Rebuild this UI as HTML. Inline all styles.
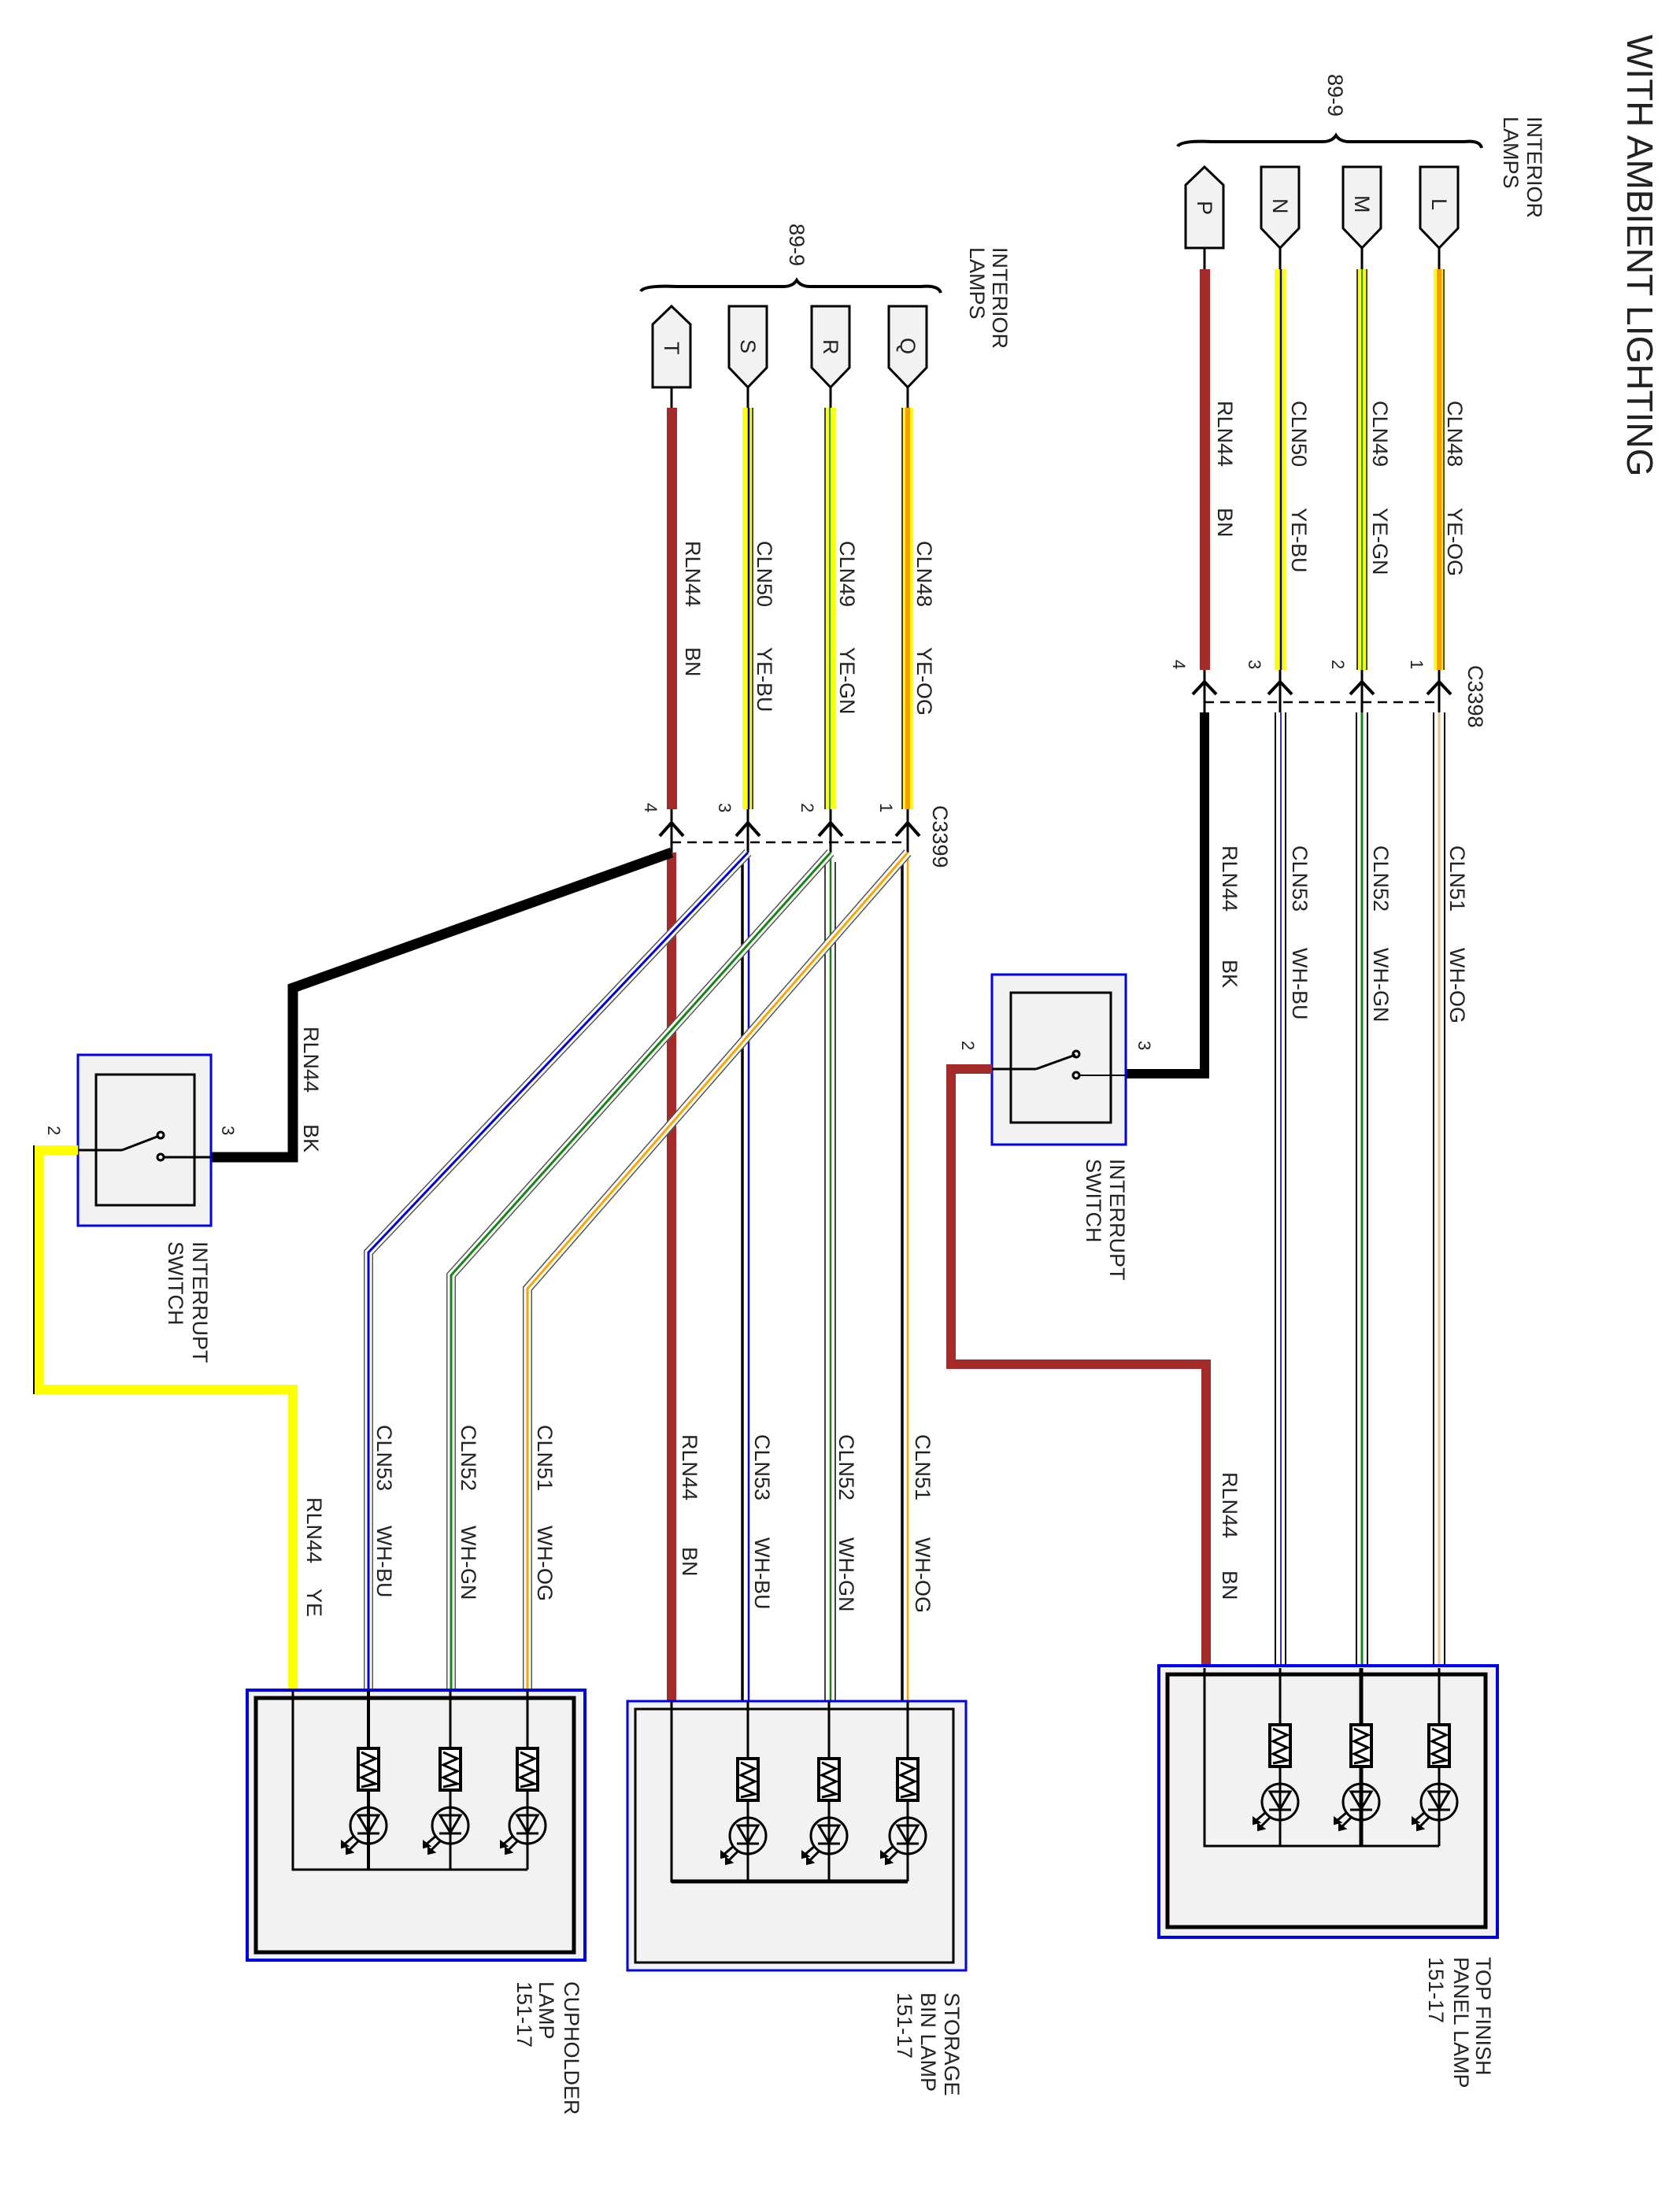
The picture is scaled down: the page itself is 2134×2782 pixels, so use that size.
<!DOCTYPE html>
<html><head><meta charset="utf-8"><style>
html,body{margin:0;padding:0;background:#fff;}
svg{display:block;}
text{font-family:"Liberation Sans",Arial,sans-serif;fill:#222;}
</style></head><body>
<svg width="2134" height="2782" viewBox="0 0 2134 2782" xmlns="http://www.w3.org/2000/svg">
<rect width="2134" height="2782" fill="#fff"/>

<!-- TITLE -->
<text font-size="46" transform="translate(2067,44) rotate(90)">WITH AMBIENT LIGHTING</text>

<!-- ============ RIGHT TOP CONNECTOR GROUP ============ -->
<path d="M1496,186 Q1500,178 1540,180 L1680,180 Q1692,180 1697,172 Q1702,180 1714,180 L1860,180 Q1880,178 1882,188" fill="none" stroke="#000" stroke-width="4"/>
<text font-size="27" transform="translate(1687,94) rotate(90)">89-9</text>
<text font-size="27" transform="translate(1940,148) rotate(90)">INTERIOR</text>
<text font-size="27" transform="translate(1910,148) rotate(90)">LAMPS</text>

<!-- connectors L M N (pointing down) -->
<g stroke="#000" stroke-width="3" fill="#f2f2f2">
<path d="M1804,212 H1852 V290 L1828,315 L1804,290 Z"/>
<path d="M1706,212 H1754 V290 L1730,315 L1706,290 Z"/>
<path d="M1602,212 H1650 V290 L1626,315 L1602,290 Z"/>
<path d="M1506,315 H1554 V235 L1530,212 L1506,235 Z"/>
</g>
<text font-size="27" transform="translate(1819,252) rotate(90)">L</text>
<text font-size="27" transform="translate(1721,248) rotate(90)">M</text>
<text font-size="27" transform="translate(1617,252) rotate(90)">N</text>
<text font-size="27" transform="translate(1521,255) rotate(90)">P</text>
<g stroke="#000" stroke-width="3">
<line x1="1828" y1="315" x2="1828" y2="905"/>
<line x1="1730" y1="315" x2="1730" y2="905"/>
<line x1="1626" y1="315" x2="1626" y2="905"/>
<line x1="1530" y1="315" x2="1530" y2="905"/>
</g>
<!-- colored wires -->
<rect x="1821" y="342" width="14" height="509" fill="#ffff00"/>
<rect x="1825" y="342" width="6" height="509" fill="#ff9900"/>
<line x1="1834" y1="342" x2="1834" y2="851" stroke="#000" stroke-width="1.5"/>
<rect x="1723" y="342" width="14" height="509" fill="#ffff00"/>
<line x1="1730" y1="342" x2="1730" y2="851" stroke="#229922" stroke-width="2"/>
<line x1="1724" y1="342" x2="1724" y2="851" stroke="#000" stroke-width="1.5"/>
<line x1="1736" y1="342" x2="1736" y2="851" stroke="#000" stroke-width="1.5"/>
<rect x="1619" y="342" width="14" height="509" fill="#ffff00"/>
<line x1="1627" y1="342" x2="1627" y2="851" stroke="#0000cc" stroke-width="2.5"/>
<rect x="1524" y="342" width="13" height="509" fill="#a52a2a"/>
<!-- labels -->
<text font-size="27" transform="translate(1839,509) rotate(90)">CLN48</text>
<text font-size="27" transform="translate(1839,645) rotate(90)">YE-OG</text>
<text font-size="27" transform="translate(1744,509) rotate(90)">CLN49</text>
<text font-size="27" transform="translate(1744,645) rotate(90)">YE-GN</text>
<text font-size="27" transform="translate(1641,509) rotate(90)">CLN50</text>
<text font-size="27" transform="translate(1641,645) rotate(90)">YE-BU</text>
<text font-size="27" transform="translate(1547,509) rotate(90)">RLN44</text>
<text font-size="27" transform="translate(1547,645) rotate(90)">BN</text>
<text font-size="22" transform="translate(1792,838) rotate(90)">1</text>
<text font-size="22" transform="translate(1692,838) rotate(90)">2</text>
<text font-size="22" transform="translate(1586,838) rotate(90)">3</text>
<text font-size="22" transform="translate(1490,838) rotate(90)">4</text>
<text font-size="27" transform="translate(1865,845) rotate(90)">C3398</text>
<!-- chevrons -->
<g fill="none" stroke="#000" stroke-width="4">
<path d="M1813,882 L1828,866 L1843,882"/>
<path d="M1715,882 L1730,866 L1745,882"/>
<path d="M1611,882 L1626,866 L1641,882"/>
<path d="M1515,882 L1530,866 L1545,882"/>
</g>
<line x1="1530" y1="892" x2="1828" y2="892" stroke="#000" stroke-width="2.5" stroke-dasharray="12,8"/>

<!-- BK wire to right switch -->
<path d="M1530,905 V1364 H1430" fill="none" stroke="#000" stroke-width="12"/>
<text font-size="27" transform="translate(1553,1074) rotate(90)">RLN44</text>
<text font-size="27" transform="translate(1553,1219) rotate(90)">BK</text>

<!-- WH wires right -->
<g fill="none">
<g stroke="#000" stroke-width="2">
<line x1="1620" y1="905" x2="1620" y2="2119"/><line x1="1633" y1="905" x2="1633" y2="2119"/>
<line x1="1723" y1="905" x2="1723" y2="2119"/><line x1="1737" y1="905" x2="1737" y2="2119"/>
<line x1="1821" y1="905" x2="1821" y2="2119"/><line x1="1835" y1="905" x2="1835" y2="2119"/>
</g>
<line x1="1627" y1="905" x2="1627" y2="2119" stroke="#3333cc" stroke-width="2"/>
<line x1="1730" y1="905" x2="1730" y2="2119" stroke="#118811" stroke-width="3"/>
<line x1="1828" y1="905" x2="1828" y2="2119" stroke="#f0c080" stroke-width="3"/>
</g>
<text font-size="27" transform="translate(1642,1074) rotate(90)">CLN53</text>
<text font-size="27" transform="translate(1642,1204) rotate(90)">WH-BU</text>
<text font-size="27" transform="translate(1745,1074) rotate(90)">CLN52</text>
<text font-size="27" transform="translate(1745,1204) rotate(90)">WH-GN</text>
<text font-size="27" transform="translate(1842,1074) rotate(90)">CLN51</text>
<text font-size="27" transform="translate(1842,1204) rotate(90)">WH-OG</text>

<!-- right switch -->
<rect x="1260" y="1238" width="170" height="216" fill="#f2f2f2" stroke="#0000ee" stroke-width="3"/>
<rect x="1284" y="1261" width="127" height="165" fill="none" stroke="#000" stroke-width="3"/>
<g stroke="#000" stroke-width="3" fill="none">
<line x1="1260" y1="1358" x2="1316" y2="1358"/>
<line x1="1316" y1="1358" x2="1366" y2="1340"/>
<circle cx="1367" cy="1339" r="4"/>
<circle cx="1367" cy="1366" r="4"/>
<line x1="1371" y1="1366" x2="1430" y2="1366" stroke-width="2"/>
</g>
<text font-size="22" transform="translate(1222,1322) rotate(90)">2</text>
<text font-size="22" transform="translate(1446,1322) rotate(90)">3</text>
<text font-size="27" transform="translate(1410,1472) rotate(90)">INTERRUPT</text>
<text font-size="27" transform="translate(1380,1472) rotate(90)">SWITCH</text>
<!-- red wire -->
<path d="M1260,1358 H1208 V1733 H1532 V2119" fill="none" stroke="#a52a2a" stroke-width="12"/>
<text font-size="27" transform="translate(1553,1870) rotate(90)">RLN44</text>
<text font-size="27" transform="translate(1553,1995) rotate(90)">BN</text>

<!-- top finish lamp box -->
<rect x="1472" y="2116" width="430" height="345" fill="#f2f2f2" stroke="#0000ee" stroke-width="4"/>
<rect x="1483" y="2127" width="404" height="321" fill="none" stroke="#000" stroke-width="5"/>
<g stroke="#000" stroke-width="3" fill="none">
<path d="M1530,2119 V2345 H1828"/>
<line x1="1626" y1="2119" x2="1626" y2="2345"/>
<line x1="1729" y1="2119" x2="1729" y2="2345" stroke-width="5"/>
<line x1="1828" y1="2119" x2="1828" y2="2345"/>
</g>
<g id="ledA">
<rect x="1613" y="2191" width="26" height="53" fill="#fff" stroke="#000" stroke-width="4"/>
<polyline points="1617,2196 1635,2204 1617,2212 1635,2220 1617,2228 1635,2236 1617,2240" fill="none" stroke="#000" stroke-width="3"/>
<circle cx="1626" cy="2289" r="23" fill="none" stroke="#000" stroke-width="3"/>
<polygon points="1613,2276 1639,2276 1626,2298" fill="none" stroke="#000" stroke-width="3"/>
<line x1="1612" y1="2299" x2="1640" y2="2299" stroke="#000" stroke-width="3"/>
<path d="M1608,2302 L1594,2314 M1614,2308 L1600,2322" stroke="#000" stroke-width="3"/>
<path d="M1592,2309 L1592,2317 L1600,2315 Z M1598,2317 L1598,2325 L1606,2323 Z" fill="#000" stroke="#000" stroke-width="2"/>
</g>
<use href="#ledA" transform="translate(103,0)"/>
<use href="#ledA" transform="translate(202,0)"/>
<text font-size="27" transform="translate(1875,2486) rotate(90)">TOP FINISH</text>
<text font-size="27" transform="translate(1847,2486) rotate(90)">PANEL LAMP</text>
<text font-size="27" transform="translate(1815,2486) rotate(90)">151-17</text>

<!-- ============ MIDDLE CONNECTOR GROUP ============ -->
<path d="M814,370 Q818,362 860,364 L995,364 Q1007,364 1012,356 Q1017,364 1029,364 L1170,364 Q1192,362 1195,372" fill="none" stroke="#000" stroke-width="4"/>
<text font-size="27" transform="translate(1003,284) rotate(90)">89-9</text>
<text font-size="27" transform="translate(1261,314) rotate(90)">INTERIOR</text>
<text font-size="27" transform="translate(1232,314) rotate(90)">LAMPS</text>
<g stroke="#000" stroke-width="3" fill="#f2f2f2">
<path d="M1129,389 H1177 V467 L1153,492 L1129,467 Z"/>
<path d="M1031,389 H1079 V467 L1055,492 L1031,467 Z"/>
<path d="M926,389 H974 V467 L950,492 L926,467 Z"/>
<path d="M829,492 H877 V412 L853,389 L829,412 Z"/>
</g>
<text font-size="27" transform="translate(1144,429) rotate(90)">Q</text>
<text font-size="27" transform="translate(1046,431) rotate(90)">R</text>
<text font-size="27" transform="translate(941,431) rotate(90)">S</text>
<text font-size="27" transform="translate(844,434) rotate(90)">T</text>
<g stroke="#000" stroke-width="3">
<line x1="1153" y1="492" x2="1153" y2="1083"/>
<line x1="1055" y1="492" x2="1055" y2="1083"/>
<line x1="950" y1="492" x2="950" y2="1083"/>
<line x1="853" y1="492" x2="853" y2="1083"/>
</g>
<rect x="1146" y="518" width="14" height="510" fill="#ffff00"/>
<rect x="1150" y="518" width="6" height="510" fill="#ff9900"/>
<line x1="1146" y1="518" x2="1146" y2="1028" stroke="#000" stroke-width="1.5"/>
<rect x="1048" y="518" width="14" height="510" fill="#ffff00"/>
<line x1="1054" y1="518" x2="1054" y2="1028" stroke="#229922" stroke-width="2"/>
<line x1="1048" y1="518" x2="1048" y2="1028" stroke="#000" stroke-width="1.5"/>
<rect x="943" y="518" width="14" height="510" fill="#ffff00"/>
<line x1="951" y1="518" x2="951" y2="1028" stroke="#0000cc" stroke-width="2.5"/>
<line x1="956" y1="518" x2="956" y2="1028" stroke="#000" stroke-width="1.5"/>
<rect x="847" y="518" width="13" height="510" fill="#a52a2a"/>
<text font-size="27" transform="translate(1165,687) rotate(90)">CLN48</text>
<text font-size="27" transform="translate(1165,822) rotate(90)">YE-OG</text>
<text font-size="27" transform="translate(1067,687) rotate(90)">CLN49</text>
<text font-size="27" transform="translate(1067,822) rotate(90)">YE-GN</text>
<text font-size="27" transform="translate(962,687) rotate(90)">CLN50</text>
<text font-size="27" transform="translate(962,822) rotate(90)">YE-BU</text>
<text font-size="27" transform="translate(871,687) rotate(90)">RLN44</text>
<text font-size="27" transform="translate(871,822) rotate(90)">BN</text>
<text font-size="22" transform="translate(1118,1020) rotate(90)">1</text>
<text font-size="22" transform="translate(1018,1020) rotate(90)">2</text>
<text font-size="22" transform="translate(913,1020) rotate(90)">3</text>
<text font-size="22" transform="translate(819,1020) rotate(90)">4</text>
<text font-size="27" transform="translate(1185,1023) rotate(90)">C3399</text>
<g fill="none" stroke="#000" stroke-width="4">
<path d="M1138,1062 L1153,1045 L1168,1062"/>
<path d="M1040,1062 L1055,1045 L1070,1062"/>
<path d="M935,1062 L950,1045 L965,1062"/>
<path d="M838,1062 L853,1045 L868,1062"/>
</g>
<line x1="853" y1="1070" x2="1153" y2="1070" stroke="#000" stroke-width="2.5" stroke-dasharray="12,8"/>

<!-- BN vertical middle -->
<line x1="853" y1="1083" x2="853" y2="2161" stroke="#a52a2a" stroke-width="12"/>
<!-- vertical white wires middle -->
<g stroke-width="2.5">
<line x1="943" y1="1095" x2="943" y2="2161" stroke="#000" stroke-width="3.5"/>
<line x1="951" y1="1090" x2="951" y2="2161" stroke="#0000ee"/>
<line x1="1048" y1="1095" x2="1048" y2="2161" stroke="#000" stroke-width="1.5"/>
<line x1="1055" y1="1090" x2="1055" y2="2161" stroke="#118811"/>
<line x1="1061" y1="1095" x2="1061" y2="2161" stroke="#000" stroke-width="1.5"/>
<line x1="1146" y1="1095" x2="1146" y2="2161" stroke="#000" stroke-width="3.5"/>
<line x1="1153" y1="1090" x2="1153" y2="2161" stroke="#ffa500"/>
</g>
<!-- diagonals -->
<g fill="none" stroke-linejoin="miter">
<path d="M950,1083 L468,1591 V2147" stroke="#555" stroke-width="12"/>
<path d="M950,1083 L468,1591 V2147" stroke="#fff" stroke-width="9"/>
<path d="M950,1083 L468,1591 V2147" stroke="#0000ee" stroke-width="3"/>
<path d="M1055,1083 L573,1620 V2147" stroke="#555" stroke-width="12"/>
<path d="M1055,1083 L573,1620 V2147" stroke="#fff" stroke-width="9"/>
<path d="M1055,1083 L573,1620 V2147" stroke="#118811" stroke-width="3"/>
<path d="M1153,1083 L670,1637 V2147" stroke="#555" stroke-width="12"/>
<path d="M1153,1083 L670,1637 V2147" stroke="#fff" stroke-width="9"/>
<path d="M1153,1083 L670,1637 V2147" stroke="#ffa500" stroke-width="3"/>
</g>
<!-- BK to left switch -->
<path d="M853,1083 L372,1255 V1470 H268" fill="none" stroke="#000" stroke-width="13"/>
<text font-size="27" transform="translate(386,1304) rotate(90)">RLN44</text>
<text font-size="27" transform="translate(386,1428) rotate(90)">BK</text>

<!-- middle lower labels -->
<text font-size="27" transform="translate(867,1822) rotate(90)">RLN44</text>
<text font-size="27" transform="translate(867,1965) rotate(90)">BN</text>
<text font-size="27" transform="translate(959,1822) rotate(90)">CLN53</text>
<text font-size="27" transform="translate(959,1953) rotate(90)">WH-BU</text>
<text font-size="27" transform="translate(1066,1822) rotate(90)">CLN52</text>
<text font-size="27" transform="translate(1066,1953) rotate(90)">WH-GN</text>
<text font-size="27" transform="translate(1163,1822) rotate(90)">CLN51</text>
<text font-size="27" transform="translate(1163,1953) rotate(90)">WH-OG</text>
<!-- left lower labels -->
<text font-size="27" transform="translate(390,1902) rotate(90)">RLN44</text>
<text font-size="27" transform="translate(390,2018) rotate(90)">YE</text>
<text font-size="27" transform="translate(479,1810) rotate(90)">CLN53</text>
<text font-size="27" transform="translate(479,1938) rotate(90)">WH-BU</text>
<text font-size="27" transform="translate(586,1810) rotate(90)">CLN52</text>
<text font-size="27" transform="translate(586,1938) rotate(90)">WH-GN</text>
<text font-size="27" transform="translate(683,1810) rotate(90)">CLN51</text>
<text font-size="27" transform="translate(683,1938) rotate(90)">WH-OG</text>

<!-- left switch -->
<rect x="99" y="1340" width="169" height="217" fill="#f2f2f2" stroke="#0000ee" stroke-width="3"/>
<rect x="122" y="1365" width="125" height="166" fill="none" stroke="#000" stroke-width="3"/>
<g stroke="#000" stroke-width="3" fill="none">
<line x1="99" y1="1461" x2="155" y2="1461"/>
<line x1="155" y1="1461" x2="202" y2="1443"/>
<circle cx="204" cy="1442" r="4"/>
<circle cx="204" cy="1470" r="4"/>
<line x1="208" y1="1470" x2="268" y2="1470"/>
</g>
<text font-size="22" transform="translate(61,1430) rotate(90)">2</text>
<text font-size="22" transform="translate(282,1430) rotate(90)">3</text>
<text font-size="27" transform="translate(245,1577) rotate(90)">INTERRUPT</text>
<text font-size="27" transform="translate(214,1577) rotate(90)">SWITCH</text>
<!-- yellow wire -->
<path d="M99,1461 H49 V1765 H372 V2147" fill="none" stroke="#ffff00" stroke-width="12"/>
<path d="M43,1455 V1771" fill="none" stroke="#000" stroke-width="2"/>

<!-- storage bin lamp box -->
<rect x="797" y="2161" width="430" height="342" fill="#f2f2f2" stroke="#0000ee" stroke-width="3"/>
<rect x="807" y="2171" width="404" height="322" fill="none" stroke="#000" stroke-width="3"/>
<g stroke="#000" stroke-width="3" fill="none">
<path d="M853,2161 V2390 H1153" />
<line x1="853" y1="2390" x2="1153" y2="2390" stroke-width="5"/>
<line x1="950" y1="2161" x2="950" y2="2390"/>
<line x1="1053" y1="2161" x2="1053" y2="2390"/>
<line x1="1153" y1="2161" x2="1153" y2="2390"/>
</g>
<use href="#ledA" transform="translate(-676,43)"/>
<use href="#ledA" transform="translate(-573,43)"/>
<use href="#ledA" transform="translate(-473,43)"/>
<text font-size="27" transform="translate(1200,2531) rotate(90)">STORAGE</text>
<text font-size="27" transform="translate(1170,2531) rotate(90)">BIN LAMP</text>
<text font-size="27" transform="translate(1140,2531) rotate(90)">151-17</text>

<!-- cupholder lamp box -->
<rect x="314" y="2147" width="429" height="343" fill="#f2f2f2" stroke="#0000ee" stroke-width="4"/>
<rect x="325" y="2157" width="404" height="323" fill="none" stroke="#000" stroke-width="5"/>
<g stroke="#000" stroke-width="3" fill="none">
<path d="M372,2147 V2375 H670"/>
<line x1="468" y1="2147" x2="468" y2="2375" stroke-width="4"/>
<line x1="572" y1="2147" x2="572" y2="2375"/>
<line x1="670" y1="2147" x2="670" y2="2375"/>
</g>
<use href="#ledA" transform="translate(-1158,30)"/>
<use href="#ledA" transform="translate(-1054,30)"/>
<use href="#ledA" transform="translate(-956,30)"/>
<text font-size="27" transform="translate(717,2517) rotate(90)">CUPHOLDER</text>
<text font-size="27" transform="translate(685,2517) rotate(90)">LAMP</text>
<text font-size="27" transform="translate(657,2517) rotate(90)">151-17</text>
</svg>
</body></html>
